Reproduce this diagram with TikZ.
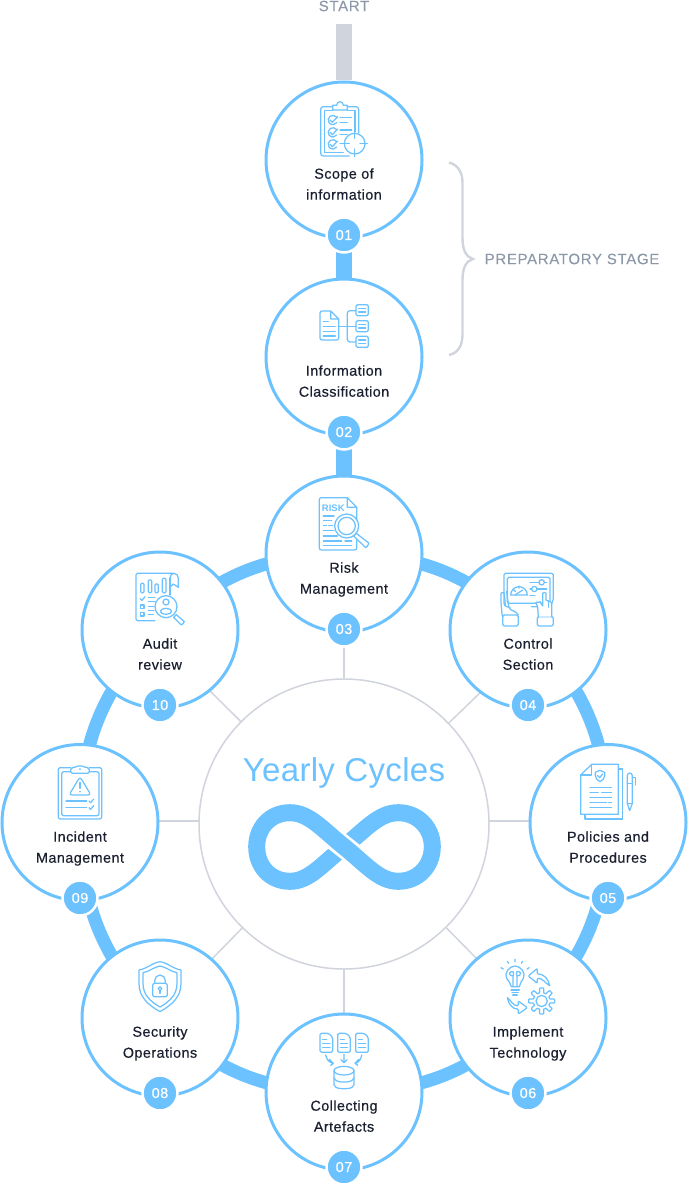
\documentclass[tikz,border=0pt]{standalone}
\usepackage{fontspec}
\setmainfont{Liberation Sans}
\newfontfamily\lblfont[FakeBold=0.4,LetterSpace=3]{Liberation Sans}
\newfontfamily\capfont[FakeBold=0.15,LetterSpace=4.5]{Liberation Sans}
\newfontfamily\titlefont[LetterSpace=1]{Liberation Sans}
\newcommand{\twoline}[2]{\strut #1\\\strut #2}
\usetikzlibrary{backgrounds}
\definecolor{sky}{HTML}{6CC2FF}
\definecolor{rule}{HTML}{D0D4DC}
\definecolor{ink}{HTML}{1B2030}
\definecolor{slate}{HTML}{8C98A8}
\tikzset{
  stage/.style={circle,draw=sky,line width=3pt,fill=white,minimum size=156pt,inner sep=0pt},
  badge/.style={circle,fill=sky,draw=white,line width=2.5pt,minimum size=35pt,inner sep=0pt,text=white,font=\lblfont\fontsize{14.5}{15}\selectfont},
  lbl/.style={align=center,text=ink,inner sep=0pt,font=\lblfont\fontsize{14.4}{21}\selectfont},
  grey/.style={text=slate,inner sep=0pt,font=\capfont\fontsize{15}{16}\selectfont},
  ringline/.style={draw=sky,line width=13pt},
  barblue/.style={draw=sky,line width=16pt},
  bargrey/.style={draw=rule,line width=16pt},
  spoke/.style={draw=rule,line width=1.5pt},
  ic/.style={draw=sky,line width=1.25pt,line cap=round,line join=round},
  zs/.style 2 args={x=.33333pt,y=-.33333pt,shift={(#1pt,-#2pt)}},
}
\begin{document}
\begin{tikzpicture}[x=1pt,y=-1pt]
\useasboundingbox (0,0) rectangle (688,1185);
% stages
\foreach \n/\x/\y in {c01/344/160,c02/344/357,c03/344/554,c04/528/630,c05/608/822.5,c06/528/1018,c07/344/1092,c08/160/1018,c09/80/822.5,c10/160/630}
  \node[stage] (\n) at (\x,\y) {};
\node[circle,draw=rule,line width=1.5pt,fill=white,minimum size=290pt,inner sep=0pt] (hub) at (344,824) {};
\coordinate (startpt) at (344,24);
\coordinate (s10) at (205,686);
\coordinate (s04) at (483,690);
\coordinate (s06) at (480,962);
\coordinate (s08) at (209,962);
\coordinate (w1) at (199,821);
\coordinate (w2) at (489,821);
\begin{scope}[on background layer]
  \draw[bargrey] (startpt) -- (c01);
  \draw[barblue] (c01.center) -- (c02.center);
  \draw[barblue] (c02.center) -- (c03.center);
  \foreach \a/\b in {c03/c04,c04/c05,c05/c06,c06/c07,c07/c08,c08/c09,c09/c10,c10/c03}
    \draw[ringline] (\a.center) to[bend left=22] (\b.center);
  \draw[spoke] (hub) -- (c03);
  \draw[spoke] (w2) -- (c05.center |- w2);
  \draw[spoke] (hub) -- (c07);
  \draw[spoke] (w1) -- (c09.center |- w1);
  \draw[spoke] (hub) -- (s10);
  \draw[spoke] (hub) -- (s04);
  \draw[spoke] (hub) -- (s06);
  \draw[spoke] (hub) -- (s08);
\end{scope}
% badges
\foreach \t/\x/\y in {01/344/235,02/344/432,03/344/629,04/528/705,05/608/898,06/528/1093,07/344/1167,08/160/1093,09/80/898,10/160/705}
  \node[badge] (b\t) at (\x,\y) {\t};
% labels
\node[lbl] (t01) at (344,185) {\twoline{Scope of}{information}};
\node[lbl] (t02) at (344,382) {\twoline{Information}{Classification}};
\node[lbl] (t03) at (344,579) {\twoline{Risk}{Management}};
\node[lbl] (t04) at (528,655) {\twoline{Control}{Section}};
\node[lbl] (t05) at (608,848) {\twoline{Policies and}{Procedures}};
\node[lbl] (t06) at (528,1043) {\twoline{Implement}{Technology}};
\node[lbl] (t07) at (344,1117) {\twoline{Collecting}{Artefacts}};
\node[lbl] (t08) at (160,1043) {\twoline{Security}{Operations}};
\node[lbl] (t09) at (80,848) {\twoline{Incident}{Management}};
\node[lbl] (t10) at (160,655) {\twoline{Audit}{review}};
\node[grey] (tstart) at (344,6) {START};
\node[grey,anchor=west] (tprep) at (484.5,259) {PREPARATORY STAGE};
\node[text=sky,inner sep=0pt,anchor=base,font=\titlefont\fontsize{33}{36}\selectfont] (ttitle) at (344,781) {Yearly Cycles};
% brace
\draw[draw=rule,line width=2.4pt] (449,162.5) .. controls (458,165) and (462.5,172) .. (462.5,183) -- (462.5,238) .. controls (462.5,250) and (466,257) .. (473,259) .. controls (466,261) and (462.5,268) .. (462.5,280) -- (462.5,334) .. controls (462.5,346) and (458,353) .. (449,355);
% infinity
\draw[draw=sky,line width=17pt] (290,812.7) .. controls (270,812.7) and (256.7,828) .. (256.7,846.7) .. controls (256.7,866) and (270,881.3) .. (290,881.3) .. controls (309,881.3) and (322,864.4) .. (344,846.7) .. controls (366,829) and (379,812.7) .. (398.3,812.7) .. controls (418,812.7) and (432.3,828) .. (432.3,846.7) .. controls (432.3,866) and (418,881.3) .. (398.3,881.3);
\draw[draw=white,line width=22.5pt] (326,832.5) -- (362,861);
\draw[draw=sky,line width=17pt] (289,812.7) -- (290,812.7) .. controls (309,812.7) and (322,829) .. (344,846.7) .. controls (366,864.4) and (379,881.3) .. (398.3,881.3) -- (399,881.3);
% icon 01
\begin{scope}[zs={260}{0}]
\draw[ic] (218,320) -- (190,320) to[out=180,in=90] (182,328) -- (182,460) to[out=-90,in=180] (190,468) -- (268,468);
\draw[ic] (262,320) -- (288,320) to[out=0,in=90] (296,328) -- (296,398);
\draw[ic] (218,332) -- (193,332) -- (193,457) -- (250,457);
\draw[ic] (262,332) -- (285,332) -- (285,395);
\draw[ic] (218,330) -- (218,316) -- (230,316) to[out=90,in=180] (240,305) to[out=0,in=90] (250,316) -- (262,316) -- (262,330) -- cycle;
\foreach \y in {360,397,433} {
  \draw[ic] (230,\y-8) arc[start angle=-35,end angle=-325,radius=14];
  \draw[ic] (210,\y) -- (217,\y+7) -- (233,\y-10);
}
\draw[ic] (240,352) -- (275,352) (240,367) -- (262,367) (240,390) -- (275,390) (240,403) -- (262,403) (240,431) -- (252,431);
\draw[ic,fill=white] (284,431) circle (31);
\draw[ic] (245,431) -- (268,431) (300,431) -- (322,431) (284,393) -- (284,415) (284,447) -- (284,470);
\end{scope}
% icon 02
\begin{scope}[zs={260}{280}]
\draw[ic] (212,93) -- (186,93) to[out=180,in=90] (180,99) -- (180,174) to[out=-90,in=180] (186,180) -- (230,180) to[out=0,in=-90] (236,174) -- (236,117) -- (212,93) -- (212,117) -- (236,117);
\draw[ic] (190,125) -- (205,125) (190,140) -- (226,140) (190,155) -- (226,155) (190,168) -- (226,168);
\draw[ic] (236,140) -- (288,140);
\draw[ic] (288,92) -- (270,92) to[out=180,in=90] (262,100) -- (262,178) to[out=-90,in=180] (270,186) -- (288,186);
\foreach \y in {74,122,169} {
  \draw[ic,rounded corners=1.5pt] (288,\y) rectangle (325,\y+33);
  \draw[ic] (296,\y+11) -- (317,\y+11) (296,\y+22) -- (317,\y+22);
}
\end{scope}
% icon 03
\begin{scope}[zs={260}{280}]
\draw[ic] (262,653) -- (184,653) to[out=180,in=90] (178,659) -- (178,804) to[out=-90,in=180] (184,810) -- (284,810) to[out=0,in=-90] (290,804) -- (290,770);
\draw[ic] (290,720) -- (290,682) -- (262,653) -- (262,682) -- (290,682);
\node[inner sep=0pt,text=sky,font=\fontsize{9.5}{10}\bfseries\selectfont] (riskt) at (220,686) {RISK};
\draw[ic] (190,708) -- (222,708) (190,722) -- (215,722) (190,737) -- (200,737) (206,737) -- (218,737) (190,752) -- (222,752) (190,768) -- (232,768) (190,783) -- (245,783) (255,783) -- (275,783) (190,797) -- (275,797);
\draw[ic,fill=white] (260,738) circle (36);
\draw[ic] (260,738) circle (26);
\draw[ic,fill=white] (281,768) -- (289,760) -- (325,788) to[out=40,in=-40] (316,802) -- cycle;
\end{scope}
% icon 04
\begin{scope}[zs={450}{550}]
\draw[ic,rounded corners=1.5pt] (180,172) -- (168,170) -- (162,165) -- (162,70) -- (310,70) -- (310,150) -- (300,170) -- (245,170) ;
\draw[ic,rounded corners=1.5pt] (178,160) -- (172,160) -- (172,82) -- (300,82) -- (300,160) -- (245,160) -- (180,160);
\draw[ic] (182,135) arc[start angle=180,end angle=360,radius=25] -- cycle;
\draw[ic] (195,135) -- (218,120) (190,118) -- (196,124) (207,108) -- (207,115);
\draw[ic] (240,97) -- (290,97) (240,117) -- (290,117) (240,137) -- (255,137);
\draw[ic,fill=white] (275,97) circle (8);
\draw[ic,fill=white] (253,117) circle (8);
\draw[ic] (158,195) to[out=-100,in=90] (153,160) -- (153,130) to[out=90,in=90] (163,130) -- (166,165) (170,125) -- (176,170) to[out=-80,in=110] (205,195);
\draw[ic,rounded corners=1.5pt] (158,195) rectangle (205,228);
\draw[ic,rounded corners=1.5pt] (262,200) rectangle (310,228);
\draw[ic,fill=white] (265,200) to[out=100,in=-60] (258,158) to[out=120,in=-120] (270,155) -- (278,168) -- (278,130) to[out=90,in=90] (288,130) -- (288,150) -- (305,158) -- (305,200);
\draw[ic] (295,152) -- (295,172);
\end{scope}
% icon 05
\begin{scope}[zs={530}{745}]
\draw[ic] (267,72) -- (278,72) -- (278,222) -- (165,222) -- (165,208);
\draw[ic,fill=white] (185,58) -- (265,58) -- (265,208) -- (152,208) -- (152,90) -- cycle;
\draw[ic] (185,58) -- (185,90) -- (152,90);
\draw[ic] (210,76) to[out=0,in=180] (224,82) -- (224,92) to[out=-90,in=30] (210,110) to[out=150,in=-90] (196,92) -- (196,82) to[out=0,in=180] cycle;
\draw[ic] (203,92) -- (209,98) -- (218,87);
\draw[ic] (180,128) -- (245,128) (180,143) -- (205,143) (215,143) -- (245,143) (180,157) -- (245,157) (180,172) -- (230,172) (236,172) -- (245,172) (180,187) -- (245,187);
\draw[ic] (292,175) -- (292,92) to[out=90,in=180] (299,84) to[out=0,in=90] (307,92) -- (307,175) -- (299,197) -- cycle;
\draw[ic] (292,115) -- (307,115) (292,175) -- (307,175);
\draw[ic] (307,97) -- (317,97) -- (317,120);
\end{scope}
% icon 06
\begin{scope}[zs={450}{940}]
\draw[ic] (184,140) to[out=100,in=-60] (170,115) to[out=120,in=-180] (195,78) to[out=0,in=60] (220,115) to[out=-120,in=80] (208,140) -- cycle;
\draw[ic] (183,150) -- (208,150) (186,158) -- (205,158) (188,165) -- (202,165);
\draw[ic] (189,138) -- (189,108) to[out=180,in=-90] (178,100) to[out=90,in=180] (189,95) to[out=0,in=90] (189,108);
\draw[ic] (201,138) -- (201,108) to[out=0,in=-90] (212,100) to[out=90,in=0] (201,95) to[out=180,in=90] (201,108);
\draw[ic] (153,83) -- (160,87) (172,64) -- (176,70) (195,58) -- (195,65) (218,64) -- (214,70) (238,83) -- (231,87);
\draw[ic,rounded corners=1pt] (299,137) to[out=100,in=0] (262,102) -- (262,85) -- (235,108) -- (262,130) -- (262,115) to[out=0,in=150] (299,137);
\draw[ic,rounded corners=1pt] (172,173) to[out=-80,in=180] (205,207) -- (205,222) -- (232,203) -- (205,183) -- (205,197) to[out=180,in=-40] (172,173);
\begin{scope}[shift={(275,183)}]
\draw[ic] plot[domain=0:360,samples=145] (\x:{32+7*max(-1,min(1,3*cos(8*\x)))}) -- cycle;
\draw[ic] (0,0) circle (17);
\end{scope}
\end{scope}
% icon 07
\begin{scope}[zs={260}{1010}]
\foreach \x in {180,233,287} {
  \draw[ic,rounded corners=1.5pt] (\x+26,70) -- (\x,70) -- (\x,127) -- (\x+38,127) -- (\x+38,82) -- cycle;
  \draw[ic] (\x+8,88) -- (\x+20,88) (\x+8,100) -- (\x+30,100) (\x+8,112) -- (\x+30,112);
}
\draw[ic] (197,135) to[out=-80,in=170] (220,160) (208,148) -- (220,160) -- (212,166);
\draw[ic] (252,133) -- (252,158) (243,149) -- (252,158) -- (261,149);
\draw[ic] (305,135) to[out=-100,in=10] (285,160) (296,148) -- (285,160) -- (293,166);
\draw[ic] (252,182) ellipse (30 and 13);
\draw[ic] (222,182) -- (222,224) to[out=-70,in=180] (252,236) to[out=0,in=-110] (282,224) -- (282,182);
\draw[ic] (222,203) to[out=-70,in=180] (252,216) to[out=0,in=-110] (282,203);
\end{scope}
% icon 08
\begin{scope}[zs={80}{940}]
\draw[ic] (240,65) to[out=-10,in=170] (303,90) -- (303,130) to[out=-90,in=30] (240,215) to[out=150,in=-90] (177,130) -- (177,90) to[out=10,in=190] cycle;
\draw[ic] (240,78) to[out=-10,in=170] (291,98) -- (291,130) to[out=-90,in=30] (240,201) to[out=150,in=-90] (189,130) -- (189,98) to[out=10,in=190] cycle;
\draw[ic,rounded corners=2pt] (218,130) rectangle (262,170);
\draw[ic] (224,130) -- (224,122) to[out=90,in=180] (240,105) to[out=0,in=90] (256,122) -- (256,130);
\draw[ic] (240,146) circle (5.5);
\draw[ic] (240,151) -- (240,160);
\end{scope}
% icon 09
\begin{scope}[zs={0}{745}]
\draw[ic,rounded corners=2pt] (212,68) -- (175,68) -- (175,222) -- (305,222) -- (305,68) -- (268,68);
\draw[ic,rounded corners=2pt] (212,80) -- (185,80) -- (185,212) -- (297,212) -- (297,80) -- (268,80);
\draw[ic,rounded corners=2pt] (212,85) -- (212,68) -- (230,66) -- (240,60) -- (250,66) -- (268,68) -- (268,85) -- cycle;
\fill[sky] (240,72) circle (3);
\draw[ic,rounded corners=3pt] (240,95) -- (273,150) -- (207,150) -- cycle;
\draw[ic] (240,112) -- (240,130);
\fill[sky] (240,140) circle (3);
\draw[ic] (198,168) -- (260,168) (198,188) -- (260,188);
\draw[ic] (267,168) -- (272,173) -- (281,162) (267,188) -- (272,193) -- (281,182);
\end{scope}
% icon 10
\begin{scope}[zs={80}{550}]
\draw[ic,rounded corners=1.5pt] (280,70) -- (168,70) -- (168,212) -- (225,212);
\draw[ic] (270,84) to[out=90,in=180] (282,70) to[out=0,in=90] (295,84) -- (295,112) -- (280,102) -- (270,112);
\draw[ic] (270,84) -- (270,135);
\draw[ic,rounded corners=1pt] (182,100) rectangle (192,128);
\draw[ic,rounded corners=1pt] (205,90) rectangle (215,128);
\draw[ic,rounded corners=1pt] (225,102) rectangle (235,128);
\draw[ic,rounded corners=1pt] (247,85) rectangle (258,128);
\draw[ic] (180,146) -- (186,151) -- (195,140);
\draw[ic] (182,165) rectangle (192,175) (182,188) rectangle (192,198);
\draw[ic] (205,142) -- (225,142) (205,155) -- (225,155) (205,170) -- (222,170) (205,181) -- (222,181) (205,193) -- (220,193);
\draw[ic,fill=white] (258,170) circle (33);
\draw[ic] (258,156) circle (9);
\draw[ic] (258,184) ellipse (17 and 9);
\draw[ic,fill=white] (281,202) -- (289,194) -- (312,214) to[out=40,in=-40] (303,224) -- cycle;
\end{scope}
\end{tikzpicture}
\end{document}
